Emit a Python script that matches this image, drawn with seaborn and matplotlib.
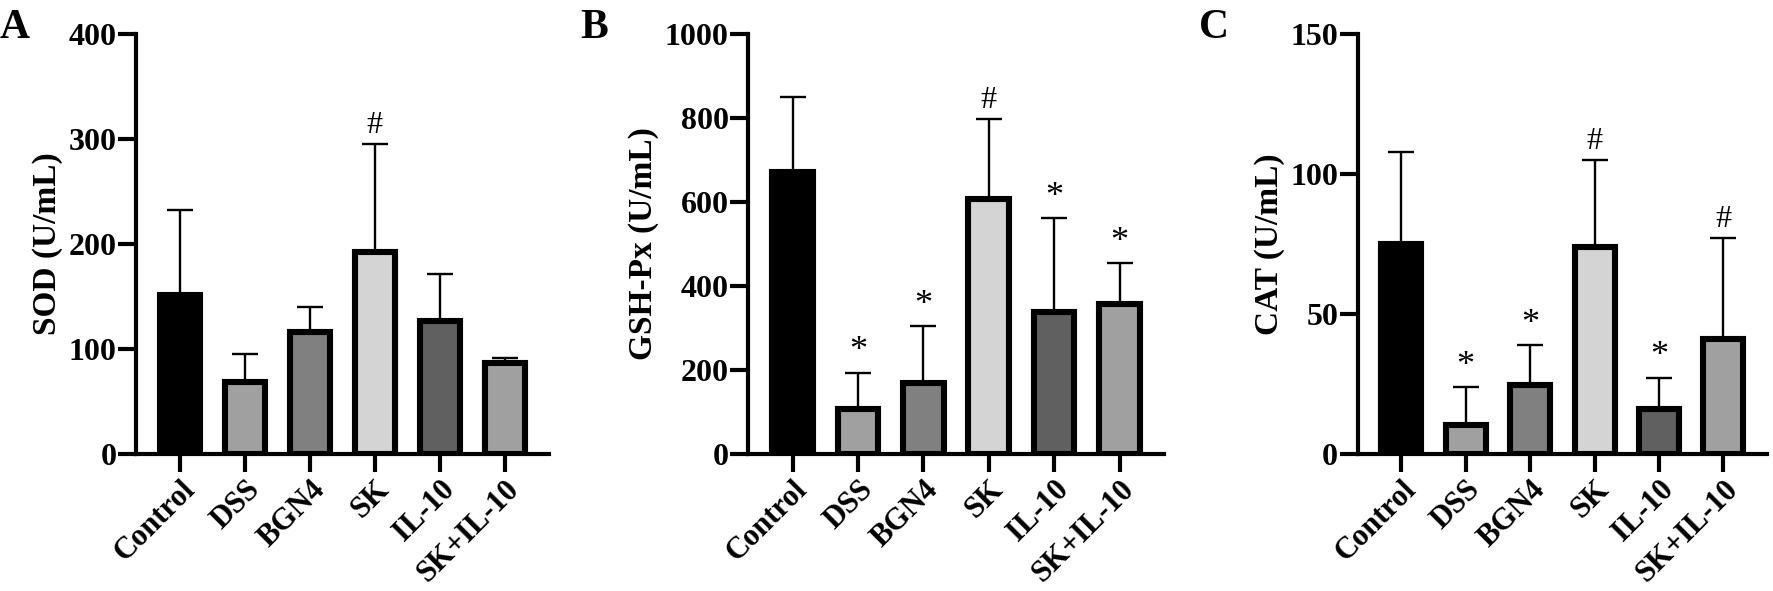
import numpy as np
import pandas as pd
import matplotlib
matplotlib.use("Agg")
import matplotlib.pyplot as plt
import seaborn as sns

## data
groups = ["Control", "DSS", "BGN4", "SK", "IL-10", "SK+IL-10"]
bar_colors = ["#000000", "#a0a0a0", "#808080", "#d4d4d4", "#606060", "#a0a0a0"]

sod_mean = [151, 69, 116, 192, 127, 87]
sod_sd = [81, 26, 24, 103, 44, 4]
sod_marks = ["", "", "", "#", "", ""]

gsh_mean = [672, 108, 170, 607, 337, 356]
gsh_sd = [178, 86, 135, 190, 224, 99]
gsh_marks = ["", "*", "*", "#", "*", "*"]

cat_mean = [75, 10.5, 24.5, 74, 16, 41]
cat_sd = [33, 13.5, 14.5, 31, 11.3, 36]
cat_marks = ["", "*", "*", "#", "*", "#"]

sns.set_style("ticks")
plt.rcParams["font.family"] = ["Liberation Serif", "DejaVu Serif"]
plt.rcParams["font.weight"] = "bold"
# pure black axes and text like the original
for key in ["axes.edgecolor", "xtick.color", "ytick.color", "text.color",
            "axes.labelcolor"]:
    plt.rcParams[key] = "black"


def draw_panel(ax, means, sds, marks, ylabel, ymax, step, letter):
    df = pd.DataFrame({"group": groups, "value": means})
    sns.barplot(data=df, x="group", y="value", hue="group", palette=bar_colors,
                legend=False, width=0.62, edgecolor="black", linewidth=4.4,
                saturation=1, ax=ax, zorder=3)
    xs = np.arange(len(groups))
    ax.errorbar(xs, means, yerr=[np.zeros(len(means)), sds], fmt="none",
                ecolor="black", elinewidth=1.7, capsize=9.5, capthick=1.7,
                zorder=2)
    for i, m in enumerate(marks):
        if m:
            ax.annotate(m, (i, means[i] + sds[i]), xytext=(0, 3),
                        textcoords="offset points", ha="center", va="bottom",
                        fontsize=26 if m == "*" else 23, fontweight="normal")
    ax.set_ylim(0, ymax)
    ax.set_yticks(np.arange(0, ymax + 1, step))
    ax.set_xlim(-0.68, 5.68)
    ax.set_xlabel("")
    ax.set_ylabel(ylabel, fontsize=24, fontweight="bold", labelpad=4)
    ax.set_xticks(xs)
    ax.set_xticklabels(groups, rotation=45, ha="right", rotation_mode="anchor",
                       fontsize=22, fontweight="bold")
    for lab in ax.get_yticklabels():
        lab.set_fontsize(23)
        lab.set_fontweight("bold")
    sns.despine(ax=ax)
    for s in ["left", "bottom"]:
        ax.spines[s].set_linewidth(3)
    ax.tick_params(axis="y", width=3, length=13, pad=1)
    ax.tick_params(axis="x", width=3, length=13, pad=2)
    ax.figure.text(letter[1], 0.985, letter[0], fontsize=30, fontweight="bold",
                   ha="left", va="top")


fig = plt.figure(figsize=(17.73, 5.91), dpi=100)
ax1 = fig.add_axes([0.0767, 0.2318, 0.2329, 0.7107])
ax2 = fig.add_axes([0.4219, 0.2318, 0.2346, 0.7107])
ax3 = fig.add_axes([0.7657, 0.2318, 0.2310, 0.7107])

draw_panel(ax1, sod_mean, sod_sd, sod_marks, "SOD (U/mL)", 400, 100, ("A", 0.0))
draw_panel(ax2, gsh_mean, gsh_sd, gsh_marks, "GSH-Px (U/mL)", 1000, 200, ("B", 0.327))
draw_panel(ax3, cat_mean, cat_sd, cat_marks, "CAT (U/mL)", 150, 50, ("C", 0.676))

fig.savefig("out.png", dpi=100)
